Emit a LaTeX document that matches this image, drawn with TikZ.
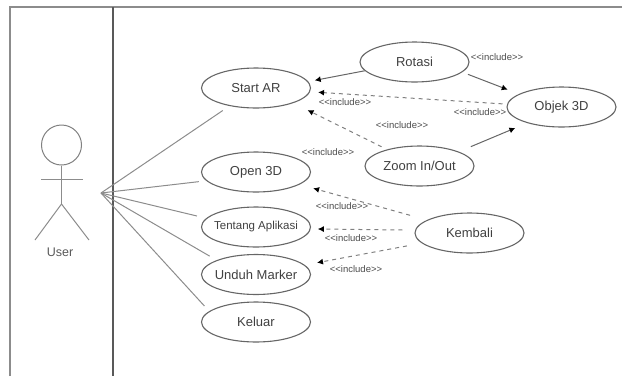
\documentclass[tikz,border=0pt]{standalone}
\usepackage{fontspec}
\setmainfont{Liberation Sans}
\usetikzlibrary{shapes,arrows,arrows.meta,positioning}

\begin{document}
\begin{tikzpicture}
				[
					x=1pt, y=-1pt,
					usecase/.style={ellipse, draw=black!60, line width=1.1pt, minimum width=109pt, minimum height=40pt, inner xsep=-20pt, inner ysep=0pt, font=\fontsize{13}{13}\selectfont, text=black!75},
					assoc/.style={draw=black!45, line width=1pt},
					solidarrow/.style={draw=black!60, line width=1pt, -{Latex[length=6pt,width=6pt,black]}},
					includearrow/.style={draw=black!50, line width=1pt, dash pattern=on 4pt off 4pt, -{Latex[length=6pt,width=6pt,black]}},
					includelabel/.style={inner sep=0pt, font=\fontsize{9.5}{10}\selectfont, text=black!70},
					frameline/.style={draw=black!45, line width=1.5pt},
				]

				\useasboundingbox (0,0) rectangle (622,376);

				% frame
				\draw[frameline] (10,376) -- (10,7) -- (622,7);
				\draw[frameline, draw=black!65] (113,7) -- (113,376);

				% actor
				\node [circle, draw=black!50, line width=1pt, minimum size=40pt, inner sep=0pt] (userhead) at (61.5,145) {};
				\coordinate (userhip) at (61.5,204);
				\coordinate (userarml) at (41,179);
				\coordinate (userarmr) at (83,179);
				\coordinate (userfootl) at (35,240);
				\coordinate (userfootr) at (89,240);
				\coordinate (userhub) at (101,193);
				\node [inner sep=0pt, font=\fontsize{12.5}{13}\selectfont, text=black!65] (userlabel) at (60,252) {User};
				\draw[assoc] (userhead) -- (userhip);
				\draw[assoc] (userarml) -- (userarmr);
				\draw[assoc] (userfootl) -- (userhip) -- (userfootr);

				% use cases
				\node [usecase] (startar) at (256,88) {Start AR};
				\node [usecase] (open3d) at (256,172) {Open 3D};
				\node [usecase, font=\fontsize{11.5}{11.5}\selectfont] (tentang) at (256,227) {Tentang Aplikasi};
				\node [usecase] (unduh) at (256,274.5) {Unduh Marker};
				\node [usecase] (keluar) at (256,322) {Keluar};
				\node [usecase] (rotasi) at (414.5,62) {Rotasi};
				\node [usecase] (objek) at (561.5,107) {Objek 3D};
				\node [usecase] (zoominout) at (419.5,166) {Zoom In/Out};
				\node [usecase] (kembali) at (469.5,233) {Kembali};

				% user to use cases
				\draw[assoc, shorten >=8pt] (userhub) -- (startar);
				\draw[assoc, shorten >=7.5pt] (userhub) -- (open3d.190);
				\draw[assoc, shorten >=9.5pt] (userhub) -- (tentang.170);
				\draw[assoc, shorten >=8pt] (userhub) -- (unduh.160);
				\draw[assoc, shorten >=7pt] (userhub) -- (keluar.167);

				% arrows between use cases
				\draw[solidarrow, shorten >=6.5pt] (rotasi.190) -- (startar.7);
				\draw[solidarrow, shorten <=6pt, shorten >=12pt] (rotasi.-12) -- (objek.163);
				\draw[solidarrow, shorten <=13pt, shorten >=12.7pt] (zoominout.20) -- (objek.205);
				\draw[includearrow, shorten <=4.5pt, shorten >=8pt] (objek.177) -- (startar.-4);
				\draw[includearrow, shorten <=6pt, shorten >=15.8pt] (zoominout.153) -- (startar.-22);
				\draw[includearrow, shorten <=17.5pt, shorten >=14pt] (kembali.163) -- (open3d.-16);
				\draw[includearrow, shorten <=12.6pt, shorten >=7pt] (kembali.177) -- (tentang.-2);
				\draw[includearrow, shorten <=15pt, shorten >=12.4pt] (kembali.192) -- (unduh.11);

				% labels
				\node [includelabel] (inclrotasi) at (497,57) {<{}<include>{}>};
				\node [includelabel] (inclobjekl) at (345,102) {<{}<include>{}>};
				\node [includelabel] (inclobjekr) at (480,112) {<{}<include>{}>};
				\node [includelabel] (inclzoom) at (402,125) {<{}<include>{}>};
				\node [includelabel] (inclopen) at (328,152) {<{}<include>{}>};
				\node [includelabel] (inclkembalia) at (342,206) {<{}<include>{}>};
				\node [includelabel] (inclkembalib) at (351,238) {<{}<include>{}>};
				\node [includelabel] (inclkembalic) at (356,269) {<{}<include>{}>};

			\end{tikzpicture}
\end{document}
